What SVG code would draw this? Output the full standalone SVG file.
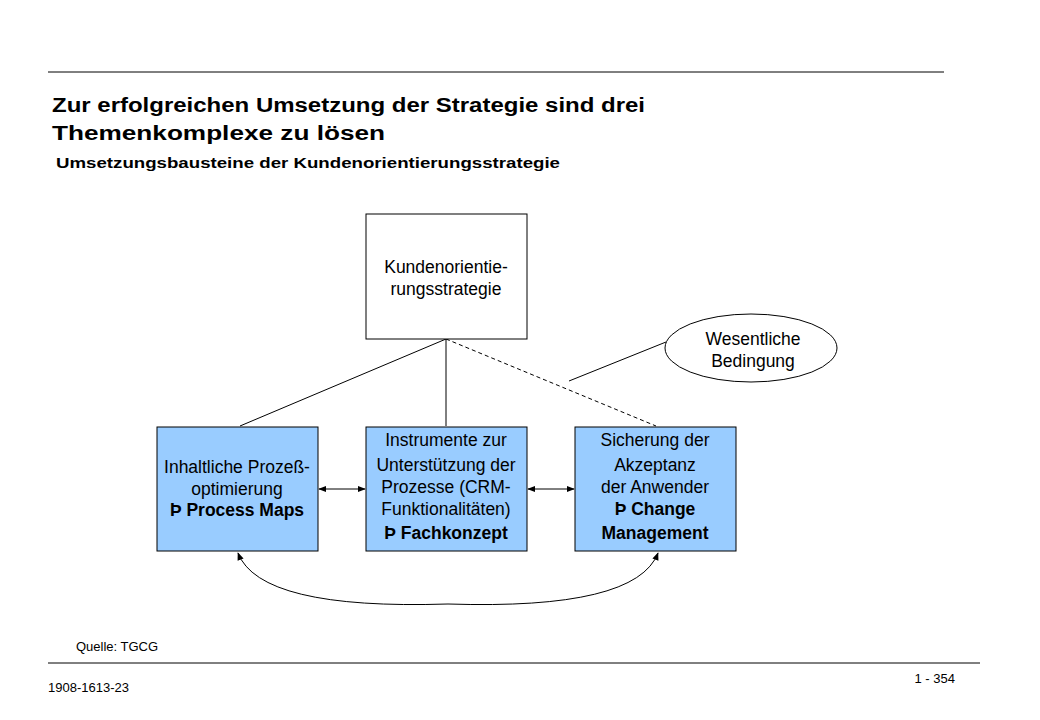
<svg xmlns="http://www.w3.org/2000/svg" width="1040" height="720" viewBox="0 0 1040 720">
<style>
text{font-family:"Liberation Sans",Arial,sans-serif;fill:#000}
.box{fill:#99ccff;stroke:#000;stroke-width:1}
.n{font-size:17.5px;text-anchor:middle}
.b{font-weight:bold}
.c{stroke:#000;stroke-width:1;fill:none}
</style>
<defs>
<marker id="ah" viewBox="0 0 10 10" refX="9" refY="5" markerWidth="8" markerHeight="8" orient="auto-start-reverse"><path d="M0,1 L10,5 L0,9 z" fill="#000"/></marker>
</defs>
<rect width="1040" height="720" fill="#fff"/>
<line x1="48" y1="72" x2="944" y2="72" stroke="#000"/>
<text x="52" y="112" font-size="20" class="b" textLength="593" lengthAdjust="spacingAndGlyphs">Zur erfolgreichen Umsetzung der Strategie sind drei</text>
<text x="52" y="140" font-size="20" class="b" textLength="333" lengthAdjust="spacingAndGlyphs">Themenkomplexe zu lösen</text>
<text x="56" y="168" font-size="15" class="b" textLength="504" lengthAdjust="spacingAndGlyphs">Umsetzungsbausteine der Kundenorientierungsstrategie</text>
<g id="connectors">
<line class="c" x1="446" y1="339" x2="240" y2="426"/>
<line class="c" x1="446" y1="339" x2="446" y2="426"/>
<line class="c" x1="446" y1="339" x2="656" y2="426" stroke-dasharray="4,3"/>
<line class="c" x1="666" y1="342" x2="569" y2="381"/>
<line class="c" x1="319" y1="489" x2="365" y2="489" marker-start="url(#ah)" marker-end="url(#ah)"/>
<line class="c" x1="528" y1="489" x2="574" y2="489" marker-start="url(#ah)" marker-end="url(#ah)"/>
<path class="c" d="M238,553 Q260,610 448,604 Q636,610 658,553" marker-start="url(#ah)" marker-end="url(#ah)"/>
</g>
<g id="strategie">
<rect x="366" y="214" width="161" height="125" fill="#fff" stroke="#000"/>
<text class="n" x="446" y="273">Kundenorientie-</text>
<text class="n" x="446" y="295">rungsstrategie</text>
</g>
<g id="bedingung">
<ellipse cx="751" cy="348" rx="86" ry="34" fill="#fff" stroke="#000"/>
<text class="n" x="753" y="345">Wesentliche</text>
<text class="n" x="753" y="367">Bedingung</text>
</g>
<g id="prozess">
<rect class="box" x="157" y="427" width="161" height="124"/>
<text class="n" x="237" y="473">Inhaltliche Prozeß-</text>
<text class="n" x="237" y="495">optimierung</text>
<text class="n b" x="237" y="516">Þ Process Maps</text>
</g>
<g id="instrumente">
<rect class="box" x="366" y="427" width="161" height="124"/>
<text class="n" x="446" y="446">Instrumente zur</text>
<text class="n" x="446" y="471">Unterstützung der</text>
<text class="n" x="446" y="493">Prozesse (CRM-</text>
<text class="n" x="446" y="515">Funktionalitäten)</text>
<text class="n b" x="446" y="539">Þ Fachkonzept</text>
</g>
<g id="akzeptanz">
<rect class="box" x="575" y="427" width="161" height="124"/>
<text class="n" x="655" y="446">Sicherung der</text>
<text class="n" x="655" y="471">Akzeptanz</text>
<text class="n" x="655" y="493">der Anwender</text>
<text class="n b" x="655" y="515">Þ Change</text>
<text class="n b" x="655" y="539">Management</text>
</g>
<text x="76" y="651" font-size="13">Quelle:  TGCG</text>
<line x1="48" y1="663" x2="980" y2="663" stroke="#000"/>
<text x="48" y="692" font-size="13">1908-1613-23</text>
<text x="955" y="683" font-size="13" text-anchor="end">1 - 354</text>
</svg>
